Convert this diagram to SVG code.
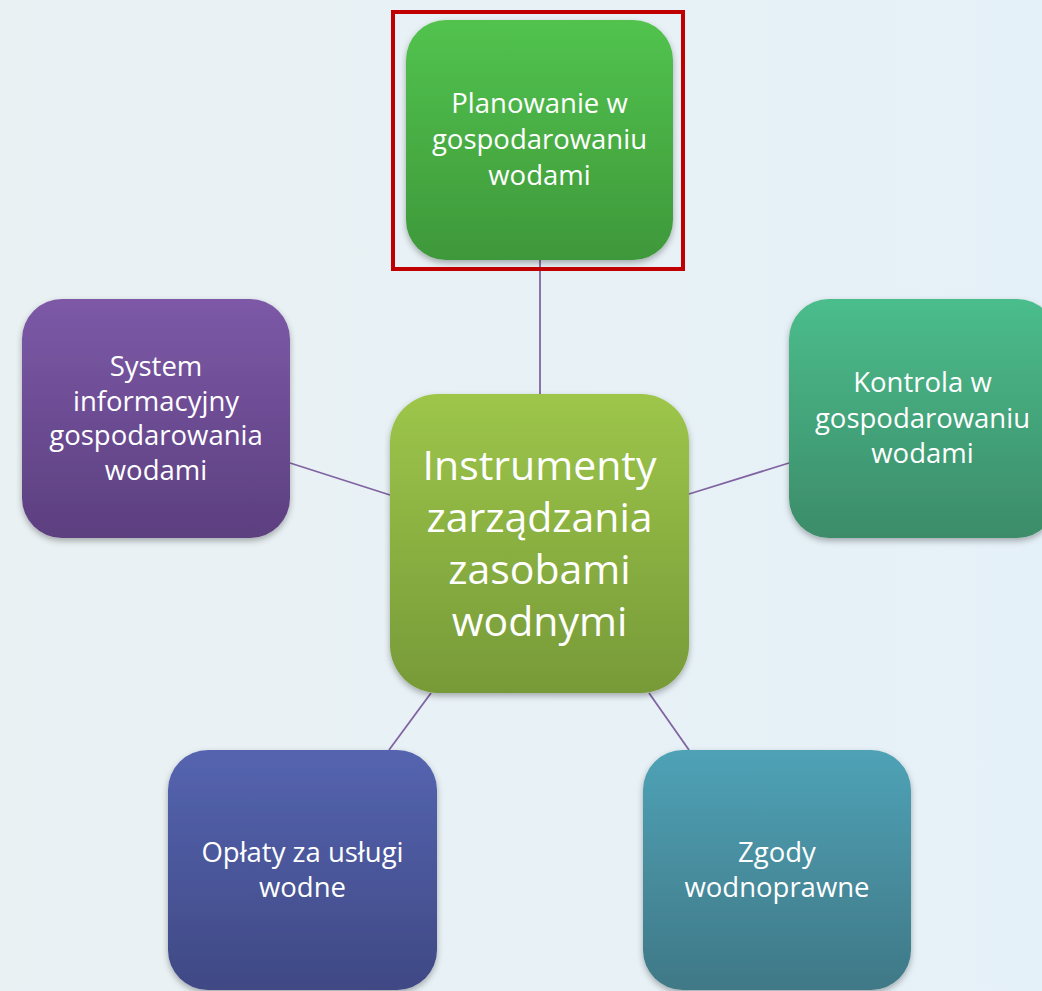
<svg xmlns="http://www.w3.org/2000/svg" width="1042" height="991" viewBox="0 0 1042 991">
<defs>
<linearGradient id="bg" x1="0" y1="0" x2="1" y2="0"><stop offset="0" stop-color="#EAF1F3"/><stop offset="1" stop-color="#E5F1F8"/></linearGradient>
<linearGradient id="gTop" x1="0" y1="0" x2="0" y2="1"><stop offset="0" stop-color="#52C34E"/><stop offset="1" stop-color="#3E983A"/></linearGradient>
<linearGradient id="gCenter" x1="0" y1="0" x2="0" y2="1"><stop offset="0" stop-color="#9DC64A"/><stop offset="1" stop-color="#779A38"/></linearGradient>
<linearGradient id="gLeft" x1="0" y1="0" x2="0" y2="1"><stop offset="0" stop-color="#7C59A7"/><stop offset="1" stop-color="#5C3F7F"/></linearGradient>
<linearGradient id="gRight" x1="0" y1="0" x2="0" y2="1"><stop offset="0" stop-color="#4BBD8C"/><stop offset="1" stop-color="#3C8C69"/></linearGradient>
<linearGradient id="gBL" x1="0" y1="0" x2="0" y2="1"><stop offset="0" stop-color="#5564B0"/><stop offset="1" stop-color="#3F4984"/></linearGradient>
<linearGradient id="gBR" x1="0" y1="0" x2="0" y2="1"><stop offset="0" stop-color="#4FA2B6"/><stop offset="1" stop-color="#3F7886"/></linearGradient>
<filter id="sh" x="-10%" y="-10%" width="120%" height="125%"><feDropShadow dx="0" dy="3" stdDeviation="3" flood-color="#000" flood-opacity="0.3"/></filter>
</defs>
<style>
.box{filter:url(#sh);}
.t{font-family:"Open Sans","Noto Sans",sans-serif;font-size:27.5px;fill:#FFFFFF;text-anchor:middle;}
.tc{font-family:"Open Sans","Noto Sans",sans-serif;font-size:41px;fill:#FFFFFF;text-anchor:middle;}
.c{stroke:#8064A2;stroke-width:1.8;fill:none;}
</style>
<rect x="0" y="0" width="1042" height="991" fill="url(#bg)"/>
<g id="connectors">
<line class="c" x1="540" y1="260" x2="540" y2="394"/>
<line class="c" x1="290" y1="463" x2="390" y2="495"/>
<line class="c" x1="689" y1="494" x2="789" y2="463"/>
<line class="c" x1="431" y1="693" x2="389" y2="750"/>
<line class="c" x1="649" y1="693" x2="689" y2="750"/>
</g>
<g id="node-top">
<rect class="box" x="406" y="20" width="267" height="240" rx="40" fill="url(#gTop)"/>
<text class="t" x="539.5" y="113">Planowanie w</text>
<text class="t" x="539.5" y="149">gospodarowaniu</text>
<text class="t" x="539.5" y="185">wodami</text>
<rect x="393" y="12" width="290" height="257" fill="none" stroke="#C00000" stroke-width="4"/>
</g>
<g id="node-left">
<rect class="box" x="22" y="299" width="268" height="239" rx="40" fill="url(#gLeft)"/>
<text class="t" x="156" y="376">System</text>
<text class="t" x="156" y="411">informacyjny</text>
<text class="t" x="156" y="445">gospodarowania</text>
<text class="t" x="156" y="480">wodami</text>
</g>
<g id="node-right">
<rect class="box" x="789" y="299" width="268" height="239" rx="40" fill="url(#gRight)"/>
<text class="t" x="922.5" y="392">Kontrola w</text>
<text class="t" x="922.5" y="428">gospodarowaniu</text>
<text class="t" x="922.5" y="463">wodami</text>
</g>
<g id="node-center">
<rect class="box" x="390" y="394" width="299" height="299" rx="48" fill="url(#gCenter)"/>
<text class="tc" x="539.5" y="480">Instrumenty</text>
<text class="tc" x="539.5" y="532">zarządzania</text>
<text class="tc" x="539.5" y="584">zasobami</text>
<text class="tc" x="539.5" y="636">wodnymi</text>
</g>
<g id="node-bottom-left">
<rect class="box" x="168" y="750" width="269" height="240" rx="40" fill="url(#gBL)"/>
<text class="t" x="302.5" y="862">Opłaty za usługi</text>
<text class="t" x="302.5" y="897">wodne</text>
</g>
<g id="node-bottom-right">
<rect class="box" x="643" y="750" width="268" height="240" rx="40" fill="url(#gBR)"/>
<text class="t" x="777" y="862">Zgody</text>
<text class="t" x="777" y="897">wodnoprawne</text>
</g>
</svg>
